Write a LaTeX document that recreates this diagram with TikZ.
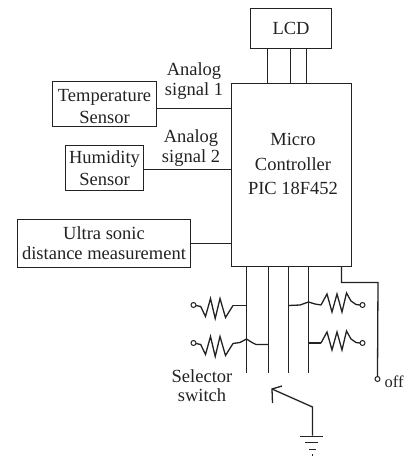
\documentclass[tikz,border=0pt]{standalone}
\usepackage{fontspec}
\setmainfont{Liberation Serif}
\definecolor{ink}{HTML}{222222}
\tikzset{
  x=1pt,y=-1pt,
  blockbox/.style={draw=ink,line width=1.3pt,rectangle,inner sep=0pt,outer sep=0pt,anchor=north west,align=center,text=ink,font=\fontsize{18.5}{22}\selectfont},
  lbl/.style={draw=none,inner sep=0pt,align=center,text=ink,font=\fontsize{18.5}{20}\selectfont},
  term/.style={draw=ink,line width=1pt,circle,inner sep=0pt,minimum size=5pt,fill=white},
  wire/.style={draw=ink,line width=1.3pt}
}
\newcommand{\zigL}[2]{
  \draw[wire] (#1+0,#2) -- (#1+4.7,#2+1) -- (#1+9.5,#2+11) -- (#1+14.5,#2-7) -- (#1+19.2,#2+13) -- (#1+24,#2-7) -- (#1+29.5,#2+12) -- (#1+37,#2);
}
\newcommand{\zigR}[2]{
  \draw[wire] (#1-0,#2) -- (#1-4,#2-.5) -- (#1-9,#2-4) -- (#1-13.5,#2-12) -- (#1-18,#2+7) -- (#1-23,#2-11) -- (#1-28,#2+7) -- (#1-33,#2-11) -- (#1-39,#2);
}
\begin{document}
\begin{tikzpicture}
\useasboundingbox (0,0) rectangle (404,456);
\node[blockbox,minimum width=104pt,minimum height=45pt] (temp) at (52.5,81.5) {\rule{0pt}{17pt}Temperature\\Sensor};
\node[blockbox,minimum width=78pt,minimum height=45pt] (hum) at (65.5,145.5) {Humidity\\Sensor};
\node[blockbox,minimum width=173pt,minimum height=48pt,font=\fontsize{18.5}{20}\selectfont] (ultra) at (17.5,219.5) {Ultra sonic\\distance measurement};
\node[blockbox,minimum width=120pt,minimum height=183pt] (mcu) at (231.5,83.5) {};
\node[blockbox,minimum width=81pt,minimum height=40pt] (lcd) at (250.5,8.5) {LCD};
\node[lbl,font=\fontsize{18.5}{24.5}\selectfont] (mcutext) at (293,164) {Micro\\Controller\\PIC 18F452};
\node[lbl] (a1) at (194,81.5) {Analog\\signal 1};
\node[lbl] (a2) at (191,148) {Analog\\signal 2};
\node[lbl,font=\fontsize{18.5}{18.5}\selectfont] (sel) at (202,385.5) {Selector\\switch};
\node[lbl,anchor=west,font=\fontsize{16.5}{20}\selectfont] (off) at (384.5,381.5) {off};
% sensor links
\coordinate (c1) at (temp.east |- 0,108.5); \coordinate (c2) at (hum.east |- 0,169.5); \coordinate (c3) at (ultra.east |- 0,243.5);
\draw[wire] (c1) -- (c1 -| mcu.west);
\draw[wire] (c2) -- (c2 -| mcu.west);
\draw[wire] (c3) -- (c3 -| mcu.west);
% LCD links
\foreach \x in {267.5,290.5,306.5} {
  \coordinate (u) at (\x,48.5);
  \draw[wire] (u) -- (u |- mcu.north);
}
% switch contacts
\foreach \x/\n in {246.5/p1,268.5/p2,288.5/p3,308.5/p4} {
  \coordinate (\n) at (\x,266.5);
  \coordinate (\n e) at (\x,373);
  \draw[wire] (\n) -- (\n e);
}
% off line
\node[term] (toff) at (377.5,379) {};
\coordinate (o1) at (341.5,266.5); \coordinate (o2) at (341.5,282.5); \coordinate (o3) at (378,282.5);
\draw[wire] (o1) -- (o2) -- (o3) -- (toff.north);
% resistors
\node[term] (t1) at (193.5,305) {};
\node[term] (t2) at (193.5,343) {};
\node[term] (t3) at (362.5,305) {};
\node[term] (t4) at (362.5,343) {};
\zigL{196}{305.5}
\draw[wire] (233,305.5) -- (246.5,305.5);
\zigL{196}{343.5}
\draw[wire] (233,343.5) -- (240,342.5) -- (246.5,339) -- (252,342.5) -- (256,344.5) -- (268.5,344.5);
\zigR{360}{305}
\draw[wire] (321,305) -- (315,304) -- (308.5,302) -- (300,305) -- (288.5,305.5);
\zigR{360}{343}
\draw[wire] (321,343) -- (308.5,343);
% switch and ground
\coordinate (g0) at (312.5,407);
\coordinate (g1) at (312.5,435.5);
\coordinate (s0) at (272,389);
\draw[wire] (g1) -- (g0) -- (s0);
\draw[wire] (282,386) -- (s0) -- (272.5,403);
\draw[wire] (300,436.5) -- (323,436.5);
\draw[wire] (305,442.5) -- (318,442.5);
\draw[wire] (309,449.5) -- (316,449.5);
\draw[wire] (312.5,454) -- (312.5,456);
\end{tikzpicture}
\end{document}
